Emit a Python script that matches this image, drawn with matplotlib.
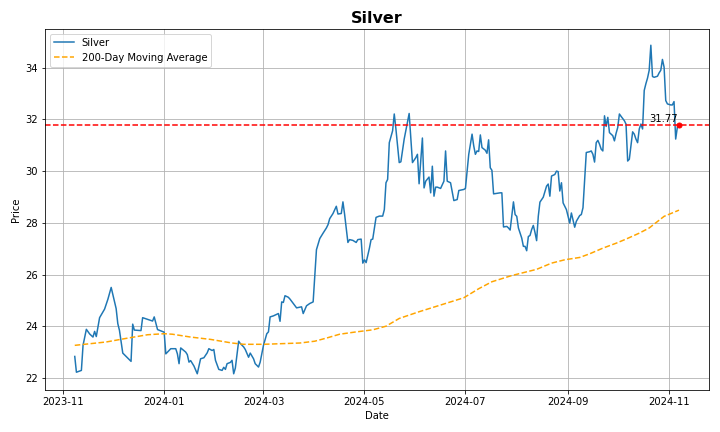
import matplotlib
matplotlib.use("Agg")
import matplotlib.pyplot as plt
import pandas as pd

price_dates = [
    "2023-11-08", "2023-11-09", "2023-11-12", "2023-11-13", "2023-11-15", "2023-11-17",
    "2023-11-19", "2023-11-20", "2023-11-21", "2023-11-23", "2023-11-26", "2023-11-28",
    "2023-11-30", "2023-12-03", "2023-12-04", "2023-12-05", "2023-12-07", "2023-12-12",
    "2023-12-13", "2023-12-14", "2023-12-18", "2023-12-19", "2023-12-25", "2023-12-26",
    "2023-12-28", "2024-01-01", "2024-01-02", "2024-01-05", "2024-01-08", "2024-01-09",
    "2024-01-10", "2024-01-11", "2024-01-14", "2024-01-15", "2024-01-16", "2024-01-17",
    "2024-01-19", "2024-01-21", "2024-01-23", "2024-01-25", "2024-01-27", "2024-01-28",
    "2024-01-30", "2024-01-31", "2024-02-01", "2024-02-03", "2024-02-05", "2024-02-06",
    "2024-02-07", "2024-02-08", "2024-02-10", "2024-02-11", "2024-02-12", "2024-02-13",
    "2024-02-15", "2024-02-16", "2024-02-18", "2024-02-19", "2024-02-21", "2024-02-22",
    "2024-02-24", "2024-02-25", "2024-02-27", "2024-02-28", "2024-03-01", "2024-03-03",
    "2024-03-04", "2024-03-05", "2024-03-07", "2024-03-09", "2024-03-10", "2024-03-11",
    "2024-03-12", "2024-03-13", "2024-03-14", "2024-03-16", "2024-03-17", "2024-03-19",
    "2024-03-21", "2024-03-24", "2024-03-25", "2024-03-27", "2024-03-29", "2024-03-31",
    "2024-04-02", "2024-04-04", "2024-04-06", "2024-04-08", "2024-04-09", "2024-04-10",
    "2024-04-12", "2024-04-14", "2024-04-15", "2024-04-17", "2024-04-18", "2024-04-19",
    "2024-04-21", "2024-04-22", "2024-04-24", "2024-04-26", "2024-04-27", "2024-04-29",
    "2024-04-30", "2024-05-01", "2024-05-02", "2024-05-04", "2024-05-05", "2024-05-06",
    "2024-05-08", "2024-05-10", "2024-05-12", "2024-05-13", "2024-05-14", "2024-05-15",
    "2024-05-16", "2024-05-18", "2024-05-19", "2024-05-20", "2024-05-22", "2024-05-23",
    "2024-05-25", "2024-05-28", "2024-05-30", "2024-06-01", "2024-06-02", "2024-06-03",
    "2024-06-05", "2024-06-06", "2024-06-07", "2024-06-09", "2024-06-10", "2024-06-11",
    "2024-06-12", "2024-06-13", "2024-06-14", "2024-06-16", "2024-06-18", "2024-06-19",
    "2024-06-20", "2024-06-22", "2024-06-24", "2024-06-26", "2024-06-27", "2024-06-30",
    "2024-07-01", "2024-07-03", "2024-07-05", "2024-07-06", "2024-07-07", "2024-07-08",
    "2024-07-09", "2024-07-10", "2024-07-11", "2024-07-13", "2024-07-14", "2024-07-15",
    "2024-07-16", "2024-07-17", "2024-07-18", "2024-07-22", "2024-07-23", "2024-07-24",
    "2024-07-26", "2024-07-27", "2024-07-28", "2024-07-29", "2024-07-30", "2024-07-31",
    "2024-08-01", "2024-08-02", "2024-08-04", "2024-08-05", "2024-08-06", "2024-08-07",
    "2024-08-08", "2024-08-09", "2024-08-10", "2024-08-11", "2024-08-12", "2024-08-13",
    "2024-08-14", "2024-08-15", "2024-08-17", "2024-08-18", "2024-08-19", "2024-08-20",
    "2024-08-21", "2024-08-22", "2024-08-24", "2024-08-25", "2024-08-26", "2024-08-27",
    "2024-08-28", "2024-08-29", "2024-08-31", "2024-09-01", "2024-09-02", "2024-09-03",
    "2024-09-05", "2024-09-06", "2024-09-08", "2024-09-09", "2024-09-10", "2024-09-11",
    "2024-09-12", "2024-09-14", "2024-09-15", "2024-09-16", "2024-09-17", "2024-09-18",
    "2024-09-19", "2024-09-20", "2024-09-21", "2024-09-22", "2024-09-23", "2024-09-24",
    "2024-09-25", "2024-09-26", "2024-09-28", "2024-09-29", "2024-09-30", "2024-10-01",
    "2024-10-02", "2024-10-03", "2024-10-05", "2024-10-06", "2024-10-07", "2024-10-08",
    "2024-10-09", "2024-10-10", "2024-10-11", "2024-10-12", "2024-10-13", "2024-10-14",
    "2024-10-15", "2024-10-16", "2024-10-17", "2024-10-18", "2024-10-19", "2024-10-20",
    "2024-10-21", "2024-10-22", "2024-10-23", "2024-10-25", "2024-10-26", "2024-10-27",
    "2024-10-28", "2024-10-29", "2024-10-30", "2024-10-31", "2024-11-02", "2024-11-03",
    "2024-11-04", "2024-11-05", "2024-11-06", "2024-11-07",
]

price_values = [
    22.83, 22.22, 22.29, 23.26, 23.88, 23.70,
    23.58, 23.80, 23.60, 24.33, 24.66, 25.04,
    25.50, 24.68, 24.10, 23.84, 22.96, 22.64,
    24.08, 23.85, 23.83, 24.33, 24.20, 24.36,
    23.87, 23.77, 22.93, 23.13, 23.13, 22.93,
    22.55, 23.16, 23.00, 22.90, 22.61, 22.67,
    22.46, 22.16, 22.74, 22.78, 22.97, 23.13,
    23.06, 23.10, 22.68, 22.33, 22.29, 22.41,
    22.33, 22.55, 22.60, 22.68, 22.16, 22.38,
    23.42, 23.33, 23.20, 23.10, 22.80, 22.96,
    22.74, 22.55, 22.42, 22.61, 23.26, 23.71,
    23.78, 24.36, 24.40, 24.46, 24.49, 24.19,
    24.94, 24.92, 25.18, 25.12, 25.05, 24.88,
    24.71, 24.75, 24.49, 24.79, 24.88, 24.94,
    26.96, 27.39, 27.60, 27.80, 27.93, 28.16,
    28.36, 28.64, 28.34, 28.36, 28.81, 28.33,
    27.24, 27.35, 27.32, 27.24, 27.35, 27.37,
    26.44, 26.57, 26.46, 27.02, 27.35, 27.37,
    28.21, 28.26, 28.26, 28.51, 29.55, 29.68,
    31.10, 31.56, 32.21, 31.63, 30.33, 30.36,
    31.24, 32.23, 30.33, 30.52, 30.65, 29.51,
    31.28, 29.35, 29.61, 29.77, 29.16, 30.19,
    29.03, 29.38, 29.38, 29.33, 29.61, 30.78,
    29.61, 29.55, 28.86, 28.90, 29.25, 29.29,
    29.33, 30.65, 31.43, 30.98, 30.65, 30.78,
    30.76, 31.40, 30.91, 30.81, 30.69, 31.21,
    30.13, 30.03, 29.12, 29.16, 29.16, 27.84,
    27.86, 27.80, 27.72, 28.25, 28.81, 28.32,
    28.25, 27.80, 27.41, 27.09, 27.09, 26.92,
    27.47, 27.51, 27.74, 27.90, 27.63, 27.31,
    28.25, 28.80, 28.99, 29.20, 29.42, 29.50,
    29.03, 29.81, 29.87, 30.00, 29.98, 29.23,
    29.55, 28.77, 28.51, 28.25, 27.99, 28.38,
    27.83, 28.06, 28.28, 28.32, 28.58, 29.68,
    30.72, 30.75, 30.78, 30.65, 30.35, 31.10,
    31.19, 31.04, 30.85, 30.78, 32.14, 31.73,
    32.08, 31.49, 31.37, 31.17, 31.46, 31.69,
    32.21, 32.12, 31.95, 31.82, 30.39, 30.46,
    30.98, 31.52, 31.43, 31.24, 31.10, 31.63,
    31.82, 31.63, 33.12, 33.38, 33.60, 33.90,
    34.87, 33.66, 33.63, 33.67, 33.80, 33.90,
    34.32, 34.02, 32.73, 32.60, 32.56, 32.56,
    32.69, 31.24, 31.69, 31.77,
]

ma_dates = [
    "2023-11-08", "2023-11-27", "2023-12-10", "2023-12-22", "2024-01-01", "2024-01-06",
    "2024-01-17", "2024-01-29", "2024-02-11", "2024-02-18", "2024-03-01", "2024-03-23",
    "2024-04-01", "2024-04-08", "2024-04-16", "2024-04-26", "2024-05-06", "2024-05-14",
    "2024-05-22", "2024-06-03", "2024-06-19", "2024-06-30", "2024-07-09", "2024-07-17",
    "2024-07-29", "2024-08-13", "2024-08-22", "2024-08-30", "2024-09-08", "2024-09-14",
    "2024-09-22", "2024-09-30", "2024-10-06", "2024-10-14", "2024-10-20", "2024-10-29",
    "2024-11-07",
]
ma_values = [
    23.26, 23.39, 23.54, 23.67, 23.71, 23.69,
    23.58, 23.49, 23.35, 23.30, 23.30, 23.35,
    23.42, 23.54, 23.69, 23.78, 23.86, 24.00,
    24.30, 24.56, 24.88, 25.10, 25.45, 25.72,
    25.96, 26.20, 26.44, 26.57, 26.66, 26.80,
    27.02, 27.21, 27.37, 27.60, 27.80, 28.25,
    28.49,
]

series_name = "Silver"
ma_name = "200-Day Moving Average"

px = pd.to_datetime(price_dates)
mx = pd.to_datetime(ma_dates)
last_date = px[-1]
last_value = price_values[-1]

fig, ax = plt.subplots(figsize=(10, 6), dpi=72)
ax.plot(px, price_values, label=series_name, color="#1f77b4", linewidth=1.5)
ax.plot(mx, ma_values, label=ma_name, color="orange", linestyle="--", linewidth=1.5)
ax.axhline(last_value, color="red", linestyle="--", linewidth=1.5)
ax.plot([last_date], [last_value], "ro", markersize=5)
ax.annotate(f"{last_value:.2f}", (last_date, last_value), textcoords="offset points",
            xytext=(-1, 1), ha="right", va="bottom", fontsize=10)

ax.set_title(series_name, fontsize=16, fontweight="bold")
ax.set_xlabel("Date")
ax.set_ylabel("Price")
ax.grid(True)
ax.legend(loc="upper left")
fig.tight_layout()
fig.savefig("out.png", dpi=72)
